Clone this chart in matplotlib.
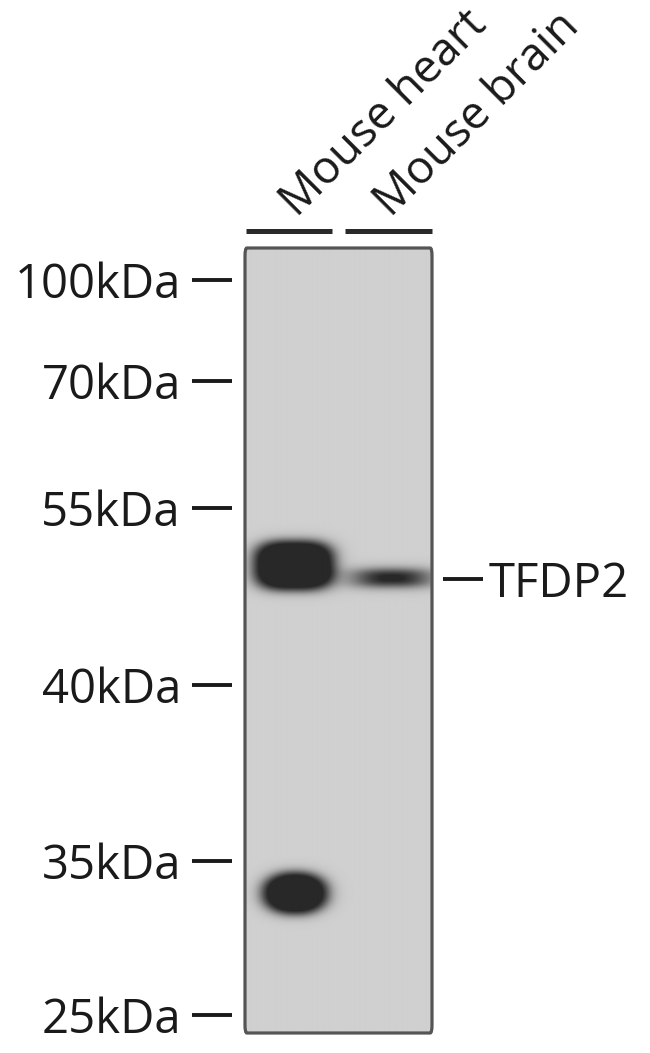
import numpy as np
import matplotlib
matplotlib.use("Agg")
import matplotlib.pyplot as plt
from matplotlib.patches import FancyBboxPatch

plt.rcParams['font.family'] = ['Open Sans', 'DejaVu Sans']

# ---- data ----
lanes = ["Mouse heart", "Mouse brain"]
marker_kda = [100, 70, 55, 40, 35, 25]
marker_labels = ["100kDa", "70kDa", "55kDa", "40kDa", "35kDa", "25kDa"]
band_lane = [0, 1, 0]
band_kda = [49.6, 48.5, 32.6]
band_intensity = [1.3, 1.15, 1.3]
target_label = "TFDP2"
target_kda = 48.4

# ---- layout (pixels) ----
W, H = 650, 1053
box_l, box_r, box_t, box_b = 245, 432, 248, 1033
marker_mig = [32, 133, 260, 437, 613, 767]   # migration rows of the ladder
blot_len = box_b - box_t
band_shape = [  # (x offset within lane, width in lanes, height px, exponent)
    (0.024, 0.87, 50, 3.0),
    (0.07, 0.71, 16, 2.6),
    (0.035, 0.70, 42, 2.2),
]

def kda_to_mig(k):
    k = np.asarray(k, dtype=float)
    return np.interp(-np.log(k), -np.log(marker_kda), marker_mig)

fig = plt.figure(figsize=(W / 100, H / 100), dpi=100)
ax = fig.add_axes([box_l / W, 1 - box_b / H, (box_r - box_l) / W, blot_len / H])

# blot image
nx, ny = 400, blot_len
xs = np.linspace(0, len(lanes), nx)
ys = np.linspace(0, blot_len, ny)
X, Y = np.meshgrid(xs, ys)
dens = np.zeros_like(X)
for lane, k, inten, (dx, w, h, p) in zip(band_lane, band_kda, band_intensity, band_shape):
    cx = lane + 0.5 + dx
    cy = float(kda_to_mig(k))
    d = (np.abs((X - cx) / (w / 2)) ** p + np.abs((Y - cy) / (h / 2)) ** p) ** (1 / p)
    soft = 2.8 / (h / 2)
    dens += inten / (1 + np.exp((d - 1) / soft))
dens = np.clip(dens, 0, 1)
bg, dark = 0.815, 0.16
img = bg - (bg - dark) * dens
ax.imshow(img, cmap='gray', vmin=0, vmax=1, extent=(0, len(lanes), blot_len, 0),
          aspect='auto', interpolation='bilinear')
ax.set_xlim(0, len(lanes))
ax.set_ylim(blot_len, 0)

for s in ax.spines.values():
    s.set_visible(False)
ax.add_patch(FancyBboxPatch((0, 0), 1, 1, boxstyle="round,pad=0,rounding_size=0.01",
                            transform=ax.transAxes, fill=False, edgecolor='#555555',
                            linewidth=2.3, clip_on=False, zorder=5))

# ladder ticks
ax.spines['left'].set_position(('outward', 13 * 0.72))
ax.set_xticks([])
ax.set_yticks(kda_to_mig(marker_kda))
ax.set_yticklabels(marker_labels)
ax.tick_params(axis='y', direction='out', length=40 * 0.72, width=2.8, color='#1a1a1a',
               pad=11 * 0.72, labelsize=34, labelcolor='#1a1a1a')

# target label on the right
ax2 = ax.twinx()
ax2.set_ylim(blot_len, 0)
for s in ax2.spines.values():
    s.set_visible(False)
ax2.spines['right'].set_position(('outward', 11 * 0.72))
ax2.set_yticks([float(kda_to_mig(target_kda))])
ax2.set_yticklabels([target_label])
ax2.tick_params(axis='y', direction='out', length=40 * 0.72, width=2.8, color='#1a1a1a',
                pad=6 * 0.72, labelsize=34, labelcolor='#1a1a1a')

# lane bars and lane labels
bar_y = 1 + (box_t - 231) / blot_len
trans = ax.get_xaxis_transform()
for i, name in enumerate(lanes):
    x0 = i + (0.01 if i == 0 else 0.07)
    x1 = i + (0.93 if i == 0 else 1.0)
    ax.plot([x0, x1], [bar_y, bar_y], transform=trans, color='#2a2a2a', lw=3.6,
            solid_capstyle='butt', clip_on=False)
    ax.text(i + 0.56, 1 + (box_t - 218) / blot_len, name, transform=trans,
            rotation=45, rotation_mode='anchor', ha='left', va='baseline',
            fontsize=33, color='#1a1a1a')

fig.savefig("out.png", dpi=100, facecolor='white')
